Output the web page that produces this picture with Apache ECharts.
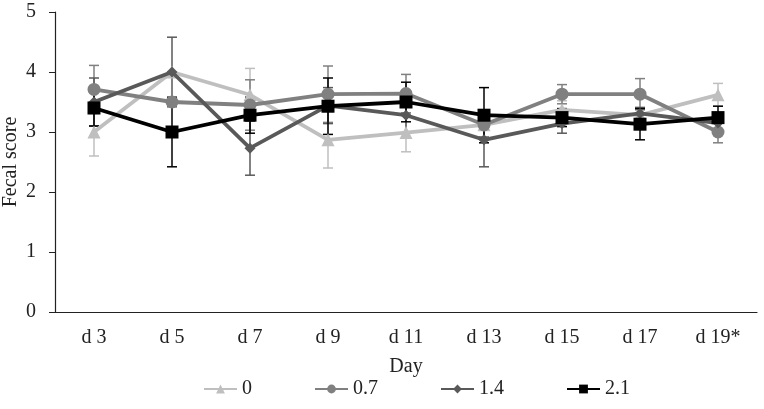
<!DOCTYPE html>
<html><head><meta charset="utf-8">
<script src="https://cdn.jsdelivr.net/npm/echarts@6/dist/echarts.min.js"></script>
<style>html,body{margin:0;padding:0;background:#fff}#c{width:764px;height:409px}</style>
</head><body><div id="c"></div>
<script>
var categories = ['d 3','d 5','d 7','d 9','d 11','d 13','d 15','d 17','d 19*'];
var seriesNames = ['0','0.7','1.4','2.1'];
var s0 = [3.0, 4.0, 3.62, 2.87, 2.99, 3.12, 3.37, 3.28, 3.62];
var s07 = [3.71, 3.5, 3.45, 3.63, 3.64, 3.12, 3.63, 3.63, 3.0];
var s14 = [3.5, 4.0, 2.73, 3.44, 3.28, 2.87, 3.14, 3.31, 3.15];
var s21 = [3.4, 3.0, 3.28, 3.43, 3.5, 3.28, 3.24, 3.13, 3.24];
var e0 = [0.4, 0.0, 0.44, 0.47, 0.32, 0.2, 0.15, 0.1, 0.19];
var e07 = [0.4, 0.0, 0.42, 0.47, 0.32, 0.2, 0.16, 0.26, 0.18];
var e14 = [0.4, 0.58, 0.45, 0.3, 0.3, 0.45, 0.16, 0.1, 0.1];
var e21 = [0.3, 0.58, 0.3, 0.47, 0.33, 0.46, 0.15, 0.26, 0.19];
var yTicks = [0,1,2,3,4,5];

var values = [s0, s07, s14, s21];
var errors = [e0, e07, e14, e21];
var colors = ['#bfbfbf', '#808080', '#595959', '#000000'];
var symbols = ['triangle', 'circle', 'diamond', 'rect'];
var symSizes = [13, 13, 11, 13];
var font = "'Times New Roman', 'Liberation Serif', Times, serif";
var fs = 20;

var series = [];
values.forEach(function (vals, i) {
  var errData = vals.map(function (v, k) { return [k, v - errors[i][k], v + errors[i][k]]; });
  series.push({
    type: 'custom',
    name: seriesNames[i] + '_err',
    z: 1,
    silent: true,
    renderItem: function (params, api) {
      var lo = api.coord([api.value(0), api.value(1)]);
      var hi = api.coord([api.value(0), api.value(2)]);
      var hw = 5;
      var st = { stroke: colors[i], lineWidth: 1.5 };
      return { type: 'group', children: [
        { type: 'line', shape: { x1: lo[0], y1: lo[1], x2: hi[0], y2: hi[1] }, style: st },
        { type: 'line', shape: { x1: lo[0] - hw, y1: lo[1], x2: lo[0] + hw, y2: lo[1] }, style: st },
        { type: 'line', shape: { x1: hi[0] - hw, y1: hi[1], x2: hi[0] + hw, y2: hi[1] }, style: st }
      ]};
    },
    encode: { x: 0, y: [1, 2] },
    data: errData
  });
});
values.forEach(function (vals, i) {
  series.push({
    type: 'line',
    name: seriesNames[i],
    data: vals,
    z: 2 + i,
    symbol: symbols[i],
    symbolSize: symSizes[i],
    showAllSymbol: true,
    lineStyle: { color: colors[i], width: 3.8 },
    itemStyle: { color: colors[i] },
    emphasis: { disabled: true },
    animation: false
  });
});

var chart = echarts.init(document.getElementById('c'));
chart.setOption({
  animation: false,
  backgroundColor: '#fff',
  grid: { left: 55, right: 7, top: 12, bottom: 97, containLabel: false, outerBoundsMode: 'none' },
  legend: {
    data: seriesNames,
    bottom: 5,
    left: 198,
    itemWidth: 33,
    itemHeight: 11,
    itemGap: 62,
    textStyle: { fontFamily: font, fontSize: fs, color: '#222' }
  },
  xAxis: {
    type: 'category',
    data: categories,
    boundaryGap: true,
    name: 'Day',
    nameLocation: 'middle',
    nameGap: 45,
    nameMoveOverlap: false,
    nameTextStyle: { fontFamily: font, fontSize: fs, color: '#222' },
    axisLine: { lineStyle: { color: '#222', width: 1.2 } },
    axisTick: { show: false },
    axisLabel: { fontFamily: font, fontSize: fs, color: '#222', margin: 16 }
  },
  yAxis: {
    type: 'value',
    min: yTicks[0],
    max: yTicks[yTicks.length - 1],
    interval: 1,
    name: 'Fecal score',
    nameLocation: 'middle',
    nameGap: 34,
    nameMoveOverlap: false,
    nameTextStyle: { fontFamily: font, fontSize: fs, color: '#222' },
    axisLine: { show: true, lineStyle: { color: '#222', width: 1.2 } },
    axisTick: { show: true, length: 6, lineStyle: { color: '#222' } },
    splitLine: { show: false },
    axisLabel: { fontFamily: font, fontSize: fs, color: '#222', margin: 19 }
  },
  series: series
});
</script>
</body></html>
